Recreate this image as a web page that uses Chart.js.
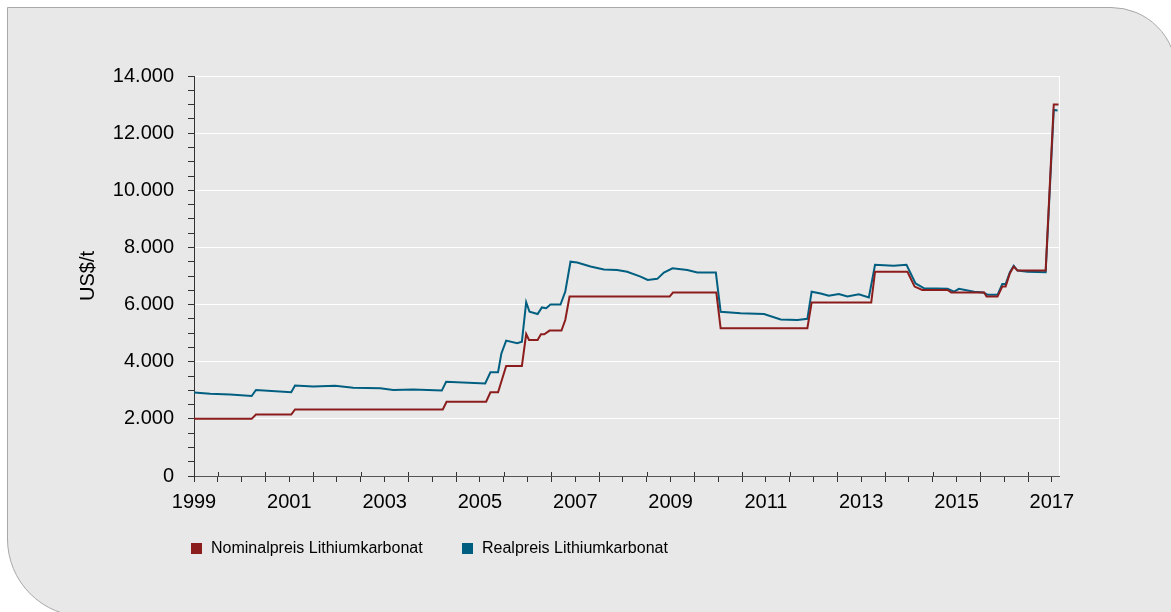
<!DOCTYPE html>
<html>
<head>
<meta charset="utf-8">
<script src="https://cdn.jsdelivr.net/npm/chart.js@4.4.1/dist/chart.umd.min.js"></script>
<style>
  html, body { margin: 0; padding: 0; background: #ffffff; width: 1171px; height: 612px; overflow: hidden; }
  #panel { position: absolute; left: 7px; top: 7px; width: 1170px; height: 610px; box-sizing: border-box;
           background: #e8e8e8; border: 1px solid #a8a8a8; border-radius: 0 66px 0 78px; }
  #wrap { position: absolute; left: 0; top: 0; width: 1171px; height: 612px; }
  .leg { position: absolute; font-family: "Liberation Sans", Arial, sans-serif; font-size: 16px; line-height: 16px; color: #000; white-space: nowrap; }
  .sw { position: absolute; width: 11px; height: 11px; }
</style>
</head>
<body>
<div id="panel"></div>
<div id="wrap"><canvas id="c" width="1171" height="612"></canvas></div>
<div class="sw" id="sw1" style="left:191px; top:543px;"></div>
<div class="leg" id="lg1" style="left:211px; top:540px;"></div>
<div class="sw" id="sw2" style="left:462px; top:543px;"></div>
<div class="leg" id="lg2" style="left:482px; top:540px;"></div>
<script>
// ---- data (decimal year, US$/t) ----
const seriesNames = ["Nominalpreis Lithiumkarbonat", "Realpreis Lithiumkarbonat"];
const yAxisTitle = "US$/t";

const nominalYears = [1999.00, 2000.21, 2000.30, 2001.04, 2001.12, 2004.22, 2004.30, 2005.13, 2005.22, 2005.38,
  2005.55, 2005.88, 2005.97, 2006.03, 2006.21, 2006.28, 2006.35, 2006.46, 2006.71, 2006.79,
  2006.88, 2008.98, 2009.05, 2009.96, 2010.05, 2011.87, 2011.96, 2013.21, 2013.29, 2013.97,
  2014.12, 2014.28, 2014.81, 2014.89, 2015.58, 2015.63, 2015.86, 2015.96, 2016.03, 2016.12,
  2016.20, 2016.28, 2016.87, 2017.04, 2017.14];
const nominalValues = [2000, 2000, 2150, 2150, 2330, 2330, 2600, 2600, 2930, 2930,
  3850, 3850, 4970, 4760, 4760, 4960, 4960, 5090, 5090, 5460,
  6280, 6280, 6420, 6420, 5170, 5170, 6070, 6070, 7150, 7150,
  6630, 6510, 6510, 6420, 6420, 6280, 6280, 6630, 6630, 7100,
  7330, 7190, 7190, 13000, 13000];

const realYears = [1999.00, 1999.34, 1999.76, 2000.21, 2000.30, 2001.04, 2001.12, 2001.50, 2001.96, 2002.34,
  2002.91, 2003.18, 2003.60, 2004.20, 2004.29, 2005.11, 2005.22, 2005.38, 2005.45, 2005.55,
  2005.78, 2005.88, 2005.97, 2006.04, 2006.21, 2006.30, 2006.39, 2006.48, 2006.69, 2006.79,
  2006.90, 2007.04, 2007.32, 2007.60, 2007.88, 2008.09, 2008.37, 2008.52, 2008.72, 2008.86,
  2009.04, 2009.35, 2009.56, 2009.95, 2010.05, 2010.47, 2010.96, 2011.31, 2011.66, 2011.87,
  2011.96, 2012.15, 2012.32, 2012.53, 2012.71, 2012.95, 2013.16, 2013.29, 2013.68, 2013.95,
  2014.14, 2014.32, 2014.81, 2014.95, 2015.05, 2015.37, 2015.56, 2015.66, 2015.86, 2015.96,
  2016.03, 2016.12, 2016.20, 2016.28, 2016.49, 2016.87, 2017.04, 2017.12];
const realValues = [2920, 2880, 2850, 2800, 3010, 2930, 3170, 3130, 3160, 3090,
  3070, 3010, 3030, 2990, 3300, 3240, 3630, 3630, 4290, 4740,
  4650, 4700, 6080, 5750, 5670, 5900, 5870, 6000, 6000, 6450,
  7500, 7470, 7330, 7230, 7210, 7150, 6980, 6860, 6900, 7120,
  7270, 7210, 7120, 7120, 5750, 5700, 5670, 5480, 5460, 5500,
  6450, 6390, 6310, 6370, 6280, 6360, 6250, 7390, 7360, 7390,
  6740, 6570, 6550, 6450, 6550, 6450, 6420, 6340, 6340, 6720,
  6720, 7130, 7360, 7190, 7150, 7130, 12810, 12790];

const xMin = 1999, xMax = 2017.15;
const yMin = 0, yMax = 14000;

const colors = ["#8c1d1d", "#005f80"];

// legend (HTML text)
document.getElementById('lg1').textContent = seriesNames[0];
document.getElementById('lg2').textContent = seriesNames[1];
document.getElementById('sw1').style.background = colors[0];
document.getElementById('sw2').style.background = colors[1];

const FONT = "'Liberation Sans', Arial, sans-serif";

function toPoints(xs, ys) { return xs.map((x, i) => ({ x: x, y: ys[i] })); }

const extras = {
  id: 'extras',
  afterDraw(chart) {
    const ctx = chart.ctx, ca = chart.chartArea, xs = chart.scales.x;
    ctx.save();
    // white right border of plot
    ctx.strokeStyle = '#ffffff';
    ctx.lineWidth = 1;
    ctx.beginPath();
    ctx.moveTo(Math.round(ca.right) + 0.5, ca.top);
    ctx.lineTo(Math.round(ca.right) + 0.5, ca.bottom);
    ctx.stroke();
    // half-year ticks cross the axis
    ctx.strokeStyle = '#333333';
    xs.ticks.forEach(t => {
      const v = t.value;
      if (Math.abs(v * 2 - Math.round(v * 2)) > 1e-6) return;
      if (Number.isInteger(v)) return;
      const px = Math.round(xs.getPixelForValue(v)) + 0.5;
      ctx.beginPath();
      ctx.moveTo(px, ca.bottom - 4);
      ctx.lineTo(px, ca.bottom);
      ctx.stroke();
    });
    ctx.restore();
  }
};

new Chart(document.getElementById('c'), {
  type: 'line',
  data: {
    datasets: [
      { label: seriesNames[0], data: toPoints(nominalYears, nominalValues), borderColor: colors[0], backgroundColor: colors[0],
        borderWidth: 2, pointRadius: 0, tension: 0, fill: false },
      { label: seriesNames[1], data: toPoints(realYears, realValues), borderColor: colors[1], backgroundColor: colors[1],
        borderWidth: 2, pointRadius: 0, tension: 0, fill: false }
    ]
  },
  options: {
    responsive: false,
    animation: false,
    events: [],
    layout: { padding: { left: 76, top: 76, right: 112, bottom: 0 } },
    plugins: { legend: { display: false }, tooltip: { enabled: false } },
    scales: {
      x: {
        type: 'linear', min: xMin, max: xMax,
        afterFit: (s) => { s.height = 612 - 476; },
        border: { display: true, color: '#555555', width: 1 },
        grid: { display: true, drawOnChartArea: false, drawTicks: true, tickLength: 6, tickColor: '#333333' },
        ticks: {
          stepSize: 0.5, includeBounds: false, autoSkip: false, maxRotation: 0, minRotation: 0, padding: 8,
          color: '#000000', font: { family: FONT, size: 20 },
          callback: (v) => {
            if (Math.abs(v * 2 - Math.round(v * 2)) > 1e-6) return null;
            if (Number.isInteger(v) && Math.abs(v % 2) === 1) return String(v);
            return '';
          }
        }
      },
      y: {
        type: 'linear', min: yMin, max: yMax,
        afterFit: (s) => { s.width = 194 - 76; },
        border: { display: true, color: '#333333', width: 1 },
        grid: {
          display: true, drawOnChartArea: true, drawTicks: true, tickLength: 6, tickColor: '#333333',
          color: (c) => (c.tick && c.tick.value % 2000 === 0) ? '#ffffff' : 'rgba(0,0,0,0)',
          lineWidth: 1
        },
        ticks: {
          stepSize: 500, autoSkip: false, padding: 14,
          color: '#000000', font: { family: FONT, size: 20 },
          callback: (v) => v % 2000 === 0 ? v.toLocaleString('de-DE') : ''
        },
        title: { display: true, text: yAxisTitle, color: '#000000', font: { family: FONT, size: 20 }, padding: { top: 0, bottom: 0 } }
      }
    }
  },
  plugins: [extras]
});
</script>
</body>
</html>
